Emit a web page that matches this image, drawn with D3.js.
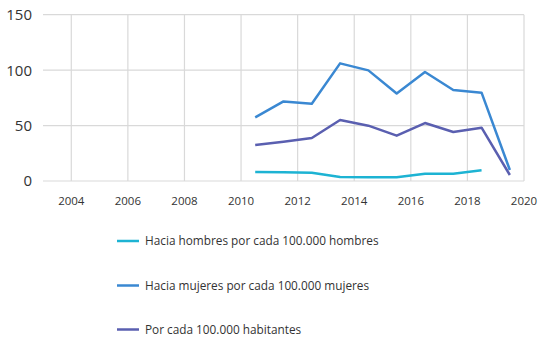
<!DOCTYPE html>
<html>
<head>
<meta charset="utf-8">
<script src="https://cdn.jsdelivr.net/npm/d3@7"></script>
<style>
  body { margin: 0; background: #fff; }
  svg { display: block; font-family: "Open Sans", "Noto Sans", sans-serif; }
</style>
</head>
<body>
<svg id="chart" width="539" height="339"></svg>
<script>
const years = [2010.5, 2011.5, 2012.5, 2013.5, 2014.5, 2015.5, 2016.5, 2017.5, 2018.5, 2019.5];
const hombres = [8.1, 7.8, 7.5, 3.6, 3.3, 3.3, 6.6, 6.6, 9.6, null];
const mujeres = [57.4, 71.8, 69.7, 106.1, 99.8, 79.0, 98.3, 82.1, 79.7, 9.9];
const habitantes = [32.5, 35.5, 38.8, 55.0, 49.9, 40.9, 52.3, 44.2, 48.1, 5.4];
const xTicks = [2004, 2006, 2008, 2010, 2012, 2014, 2016, 2018, 2020];
const yTicks = [0, 50, 100, 150];
const seriesNames = [
  "Hacia hombres por cada 100.000 hombres",
  "Hacia mujeres por cada 100.000 mujeres",
  "Por cada 100.000 habitantes"
];
const seriesColors = ["#1db3d3", "#3a88d2", "#5a5fb0"];

const svg = d3.select("#chart");
const x = d3.scaleLinear().domain([2003, 2020]).range([43, 524]);
const y = d3.scaleLinear().domain([0, 150]).range([181, 14.7]);

// horizontal grid
svg.append("g").selectAll("line").data(yTicks).join("line")
  .attr("x1", x(2003)).attr("x2", x(2020))
  .attr("y1", d => y(d)).attr("y2", d => y(d))
  .attr("stroke", "#d9d9d9").attr("stroke-width", 1.2);
// vertical grid
svg.append("g").selectAll("line").data(xTicks).join("line")
  .attr("x1", d => x(d)).attr("x2", d => x(d))
  .attr("y1", y(0)).attr("y2", y(150))
  .attr("stroke", "#d9d9d9").attr("stroke-width", 1.2);

// y axis labels
svg.append("g").selectAll("text").data(yTicks).join("text")
  .attr("x", 32).attr("y", d => y(d)).attr("dy", "0.36em")
  .attr("text-anchor", "end").attr("font-size", 15).attr("fill", "#333")
  .text(d => d);
// x axis labels
svg.append("g").selectAll("text").data(xTicks).join("text")
  .attr("x", d => x(d)).attr("y", 205)
  .attr("text-anchor", "middle").attr("font-size", 11.5).attr("fill", "#333")
  .text(d => d);

const allSeries = [hombres, mujeres, habitantes];
const line = d3.line()
  .defined(d => d[1] != null)
  .x(d => x(d[0])).y(d => y(d[1]));
allSeries.forEach((vals, i) => {
  svg.append("path")
    .datum(years.map((yr, j) => [yr, vals[j]]))
    .attr("fill", "none")
    .attr("stroke", seriesColors[i])
    .attr("stroke-width", 2.5)
    .attr("stroke-linejoin", "round")
    .attr("d", line);
});

// legend
const legY = [241, 285.5, 329.5];
const leg = svg.append("g").selectAll("g").data(seriesNames).join("g")
  .attr("transform", (d, i) => `translate(117,${legY[i]})`);
leg.append("line").attr("x1", 0).attr("x2", 22).attr("y1", 0).attr("y2", 0)
  .attr("stroke", (d, i) => seriesColors[i]).attr("stroke-width", 2.5);
leg.append("text").attr("x", 28).attr("y", 0).attr("dy", "0.35em")
  .attr("font-size", 11.8).attr("fill", "#333").text(d => d);
</script>
</body>
</html>
